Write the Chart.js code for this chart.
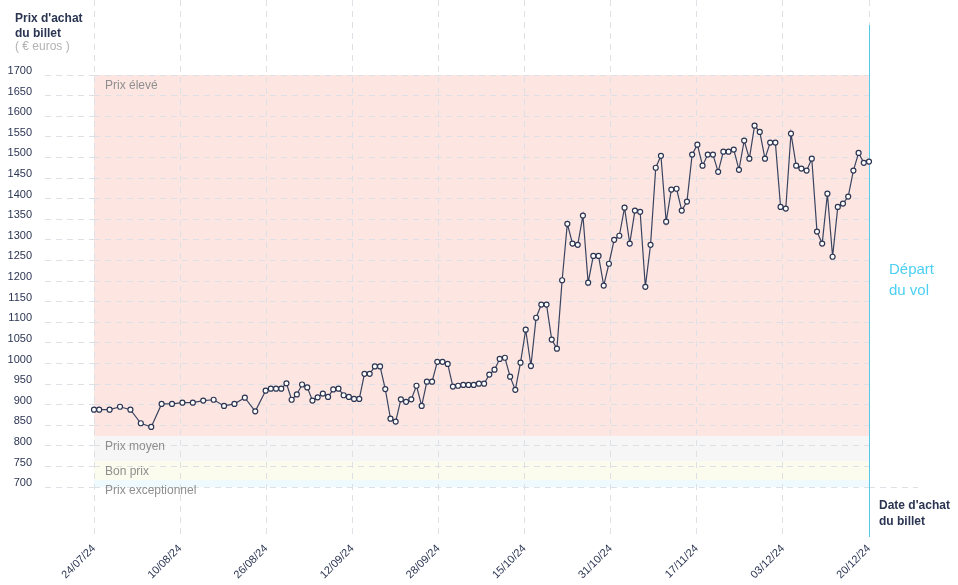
<!DOCTYPE html>
<html>
<head>
<meta charset="utf-8">
<script src="https://cdn.jsdelivr.net/npm/chart.js@4.4.1/dist/chart.umd.min.js"></script>
<style>
  html, body { margin: 0; background: #fff; }
  #wrap { width: 958px; height: 585px; }
</style>
</head>
<body>
<div id="wrap"><canvas id="prixChart"></canvas></div>
<script>
// dates d'achat (jj/mm, année 2024)
const purchaseDates = [
  "24/07", "25/07", "27/07", "29/07", "31/07", "02/08", "04/08", "06/08", "08/08",
  "10/08", "12/08", "14/08", "16/08", "18/08", "20/08", "22/08", "24/08",
  "26/08", "27/08", "28/08", "29/08", "30/08", "31/08",
  "01/09", "02/09", "03/09", "04/09", "05/09", "06/09", "07/09", "08/09", "09/09", "10/09",
  "11/09", "12/09", "13/09", "14/09", "15/09", "16/09", "17/09", "18/09", "19/09", "20/09",
  "21/09", "22/09", "23/09", "24/09", "25/09", "26/09", "27/09", "28/09", "29/09", "30/09",
  "01/10", "02/10", "03/10", "04/10", "05/10", "06/10", "07/10", "08/10", "09/10", "10/10",
  "11/10", "12/10", "13/10", "14/10", "15/10", "16/10", "17/10", "18/10", "19/10", "20/10",
  "21/10", "22/10", "23/10", "24/10", "25/10", "26/10", "27/10", "28/10", "29/10", "30/10", "31/10",
  "01/11", "02/11", "03/11", "04/11", "05/11", "06/11", "07/11", "08/11", "09/11", "10/11",
  "11/11", "12/11", "13/11", "14/11", "15/11", "16/11", "17/11", "18/11", "19/11", "20/11",
  "21/11", "22/11", "23/11", "24/11", "25/11", "26/11", "27/11", "28/11", "29/11", "30/11",
  "01/12", "02/12", "03/12", "04/12", "05/12", "06/12", "07/12", "08/12", "09/12", "10/12",
  "11/12", "12/12", "13/12", "14/12", "15/12", "16/12", "17/12", "18/12", "19/12", "20/12"
];

// prix du billet (euros)
const prices = [
  888, 888, 888, 895, 888, 855, 846, 902, 902,
  905, 905, 910, 912, 897, 902, 917, 884,
  934, 939, 939, 939, 952, 912,
  925, 949, 942, 910, 918, 927, 919, 937, 939, 923,
  919, 914, 914, 975, 975, 993, 993, 938, 866, 859,
  913, 907, 913, 946, 897, 956, 956, 1004, 1004, 999,
  944, 946, 948, 948, 948, 951, 951, 973, 985, 1011,
  1014, 968, 936, 1002, 1082, 994, 1111, 1143, 1143, 1058,
  1036, 1202, 1339, 1291, 1288, 1359, 1196, 1261, 1261, 1189, 1242,
  1300, 1310, 1378, 1291, 1371, 1368, 1186, 1288, 1475, 1504,
  1344, 1422, 1424, 1371, 1393, 1507, 1531, 1480, 1507, 1507,
  1465, 1514, 1514, 1519, 1470, 1541, 1497, 1577, 1562, 1497,
  1536, 1536, 1380, 1376, 1558, 1480, 1473, 1468, 1497, 1320,
  1291, 1412, 1259, 1380, 1388, 1405, 1468, 1511, 1487, 1490
];

const xTickLabels = ["24/07/24", "10/08/24", "26/08/24", "12/09/24", "28/09/24",
                     "15/10/24", "31/10/24", "17/11/24", "03/12/24", "20/12/24"];
const yTicks = [700, 750, 800, 850, 900, 950, 1000, 1050, 1100, 1150, 1200, 1250,
                1300, 1350, 1400, 1450, 1500, 1550, 1600, 1650, 1700];

// zones de prix
const bandNames = ["Prix élevé", "Prix moyen", "Bon prix", "Prix exceptionnel"];
const bandLimits = [1700, 824, 763, 717, 700];
const bandColors = ["#fde6e1", "#f6f6f6", "#fbfbee", "#eefafd"];

const departureDate = "20/12";

const navy = "#2b3552";
const gridColor = "#dde1e6";
const fontFamily = '"Liberation Sans", Arial, sans-serif';

function dayIndex(s) {
  const [d, m] = s.split("/").map(Number);
  return Math.round((Date.UTC(2024, m - 1, d) - Date.UTC(2024, 6, 24)) / 86400000);
}
const firstDay = dayIndex(purchaseDates[0]);
const lastDay = dayIndex(departureDate);

const points = purchaseDates.map((d, i) => ({ x: dayIndex(d), y: prices[i] }));

const decor = {
  id: "decor",
  beforeDraw(chart) {
    const { ctx, chartArea: a, scales: { y } } = chart;
    ctx.save();
    for (let i = 0; i < bandNames.length; i++) {
      const top = y.getPixelForValue(bandLimits[i]);
      const bot = y.getPixelForValue(bandLimits[i + 1]);
      ctx.fillStyle = bandColors[i];
      ctx.fillRect(a.left, top, a.right - a.left, bot - top);
    }
    ctx.restore();
  },
  beforeDatasetsDraw(chart) {
    const { ctx, chartArea: a, scales: { x, y } } = chart;
    ctx.save();
    // libellés des zones
    ctx.font = "12px " + fontFamily;
    ctx.fillStyle = "#8e8e8e";
    ctx.textBaseline = "middle";
    ctx.textAlign = "left";
    bandNames.forEach((n, i) => {
      ctx.fillText(n, a.left + 11, y.getPixelForValue(bandLimits[i]) + 11);
    });
    // prolongement de la ligne 700
    ctx.strokeStyle = gridColor;
    ctx.setLineDash([6, 5]);
    ctx.beginPath();
    const y700 = Math.round(y.getPixelForValue(yTicks[0])) + 0.5;
    ctx.moveTo(a.right, y700);
    ctx.lineTo(a.right + 49, y700);
    ctx.stroke();
    // départ du vol
    ctx.setLineDash([]);
    const xd = Math.round(x.getPixelForValue(lastDay)) + 0.5;
    ctx.strokeStyle = "#56c9ea";
    ctx.beginPath();
    ctx.moveTo(xd, 25);
    ctx.lineTo(xd, a.bottom);
    ctx.stroke();
    ctx.restore();
  },
  afterDraw(chart) {
    const { ctx, chartArea: a } = chart;
    ctx.save();
    ctx.textBaseline = "middle";
    ctx.textAlign = "left";
    ctx.fillStyle = navy;
    ctx.font = "bold 12px " + fontFamily;
    ctx.fillText("Prix d'achat", 15, 19);
    ctx.fillText("du billet", 15, 34);
    ctx.fillText("Date d'achat", a.right + 10, 506);
    ctx.fillText("du billet", a.right + 10, 522);
    ctx.font = "12px " + fontFamily;
    ctx.fillStyle = "#b3b3b3";
    ctx.fillText("( € euros )", 15, 47);
    ctx.font = "15px " + fontFamily;
    ctx.fillStyle = "#4ccff2";
    ctx.fillText("Départ", a.right + 20, 270);
    ctx.fillText("du vol", a.right + 20, 291);
    ctx.restore();
  }
};

new Chart(document.getElementById("prixChart"), {
  type: "line",
  data: {
    datasets: [{
      data: points,
      borderColor: "#3a4460",
      borderWidth: 1.2,
      tension: 0,
      pointRadius: 2.5,
      pointBorderWidth: 1.2,
      pointBackgroundColor: "#ffffff",
      pointBorderColor: "#2b3552",
      clip: false
    }]
  },
  plugins: [decor],
  options: {
    responsive: true,
    maintainAspectRatio: false,
    animation: false,
    layout: { autoPadding: false, padding: { left: 0, right: 89, top: 0, bottom: 0 } },
    plugins: { legend: { display: false }, tooltip: { enabled: false } },
    scales: {
      x: {
        type: "linear",
        min: firstDay,
        max: lastDay,
        afterBuildTicks: (s) => {
          const n = xTickLabels.length - 1;
          s.ticks = xTickLabels.map((_, k) => ({ value: firstDay + k * (lastDay - firstDay) / n }));
        },
        afterFit: (s) => { s.height = 48; },
        grid: { color: gridColor, drawTicks: false },
        border: { display: false, dash: [6, 5] },
        ticks: {
          color: navy,
          font: { family: fontFamily, size: 11 },
          minRotation: 45,
          maxRotation: 45,
          padding: 5,
          autoSkip: false,
          callback: (v, i) => xTickLabels[i]
        }
      },
      y: {
        min: 579,
        max: 1882,
        afterBuildTicks: (s) => { s.ticks = yTicks.map((v) => ({ value: v })); },
        afterFit: (s) => { s.width = 94; s.paddingTop = 0; s.paddingBottom = 0; },
        grid: { color: gridColor, tickColor: gridColor, tickLength: 49, tickBorderDash: [6, 5] },
        border: { display: false, dash: [6, 5] },
        ticks: {
          color: navy,
          font: { family: fontFamily, size: 11 },
          padding: 13,
          labelOffset: -4,
          callback: (v) => v
        }
      }
    }
  }
});
</script>
</body>
</html>
